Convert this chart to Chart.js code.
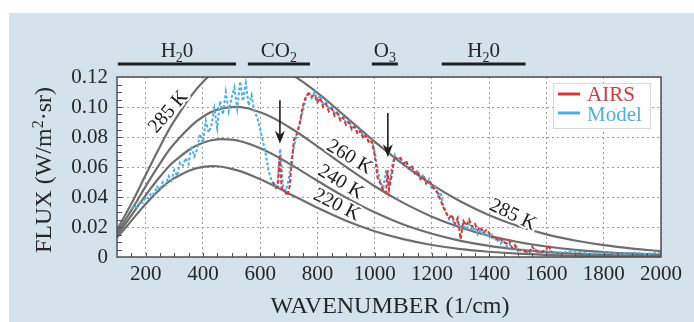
<!DOCTYPE html>
<html>
<head>
<meta charset="utf-8">
<script src="https://cdn.jsdelivr.net/npm/chart.js@4"></script>
<style>
  html, body { margin: 0; padding: 0; background: #fff; }
  #wrap { width: 694px; height: 322px; }
</style>
</head>
<body>
<div id="wrap"><canvas id="grafica" width="694" height="322"></canvas></div>
<script>
// curvas de Planck
const planckNu = [100, 150, 200, 250, 300, 400, 500, 600, 700, 800, 900, 1000, 1100, 1200, 1300, 1400, 1500, 1600, 1700, 1800, 1900, 2000];
const flux285 = [0.0181, 0.0355, 0.0546, 0.0735, 0.0907, 0.1167, 0.1297, 0.1307, 0.1228, 0.1094, 0.0933, 0.0769, 0.0617, 0.0482, 0.0370, 0.0279, 0.0207, 0.0151, 0.0110, 0.0079, 0.0056, 0.0039];
const flux260 = [0.0161, 0.0311, 0.0471, 0.0623, 0.0755, 0.0935, 0.0999, 0.0965, 0.0867, 0.0738, 0.0601, 0.0472, 0.0361, 0.0269, 0.0197, 0.0141, 0.0100, 0.0070, 0.0048, 0.0033, 0.0022, 0.0015];
const flux240 = [0.0145, 0.0276, 0.0411, 0.0535, 0.0638, 0.0762, 0.0782, 0.0725, 0.0624, 0.0508, 0.0396, 0.0298, 0.0217, 0.0155, 0.0108, 0.0074, 0.0050, 0.0033, 0.0022, 0.0014, 0.0009, 0.0006];
const flux220 = [0.0129, 0.0241, 0.0353, 0.0451, 0.0526, 0.0601, 0.0588, 0.0519, 0.0424, 0.0328, 0.0242, 0.0172, 0.0119, 0.0080, 0.0053, 0.0035, 0.0022, 0.0014, 0.0009, 0.0005, 0.0003, 0.0002];

// espectro del modelo
const modelNu = [
  150, 160, 170, 180, 190, 200, 210, 220, 230, 240,
  250, 260, 270, 280, 290, 300, 310, 320, 330, 340,
  350, 360, 370, 380, 390, 400, 410, 420, 430, 440,
  450, 460, 470, 480, 490, 500, 510, 520, 530, 540,
  550, 560, 570, 580, 590, 600, 610, 620, 630, 640,
  650, 660, 670, 680, 690, 700, 710, 720, 730, 740,
  750, 760, 770, 780, 790, 800, 810, 820, 830, 840,
  850, 860, 870, 880, 890, 900, 910, 920, 930, 940,
  950, 960, 970, 980, 990, 1000, 1010, 1020, 1030, 1040,
  1050, 1060, 1070, 1080, 1090, 1100, 1110, 1120, 1130, 1140,
  1150, 1160, 1170, 1180, 1190, 1200, 1210, 1220, 1230, 1240,
  1250, 1260, 1270, 1280, 1290, 1300, 1310, 1320, 1330, 1340,
  1350, 1360, 1370, 1380, 1390, 1400, 1410, 1420, 1430, 1440,
  1450, 1460, 1470, 1480, 1490, 1500,
  1520, 1540, 1560, 1580, 1600,
  1650, 1700, 1750, 1800, 1850, 1900, 1950, 2000
];
const modelFlux = [
  0.032, 0.034, 0.033, 0.037, 0.036, 0.040, 0.039, 0.043, 0.042, 0.047,
  0.045, 0.050, 0.048, 0.054, 0.051, 0.058, 0.054, 0.063, 0.061, 0.066,
  0.062, 0.074, 0.067, 0.072, 0.082, 0.076, 0.091, 0.083, 0.088, 0.099,
  0.086, 0.104, 0.095, 0.110, 0.097, 0.106, 0.113, 0.099, 0.117, 0.104,
  0.116, 0.101, 0.108, 0.097, 0.093, 0.085, 0.077, 0.068, 0.057, 0.051,
  0.047, 0.048, 0.072, 0.047, 0.044, 0.052, 0.066, 0.075, 0.083, 0.090,
  0.098, 0.106, 0.110, 0.106, 0.110, 0.104, 0.108, 0.101, 0.104, 0.098,
  0.101, 0.095, 0.097, 0.092, 0.094, 0.089, 0.091, 0.086, 0.088, 0.083,
  0.085, 0.080, 0.082, 0.077, 0.078, 0.070, 0.058, 0.050, 0.046, 0.058,
  0.047, 0.060, 0.068, 0.064, 0.067, 0.061, 0.064, 0.058, 0.061, 0.055,
  0.058, 0.052, 0.055, 0.049, 0.052, 0.045, 0.048, 0.041, 0.043, 0.034,
  0.030, 0.025, 0.027, 0.021, 0.024, 0.019, 0.023, 0.018, 0.022, 0.017,
  0.020, 0.015, 0.018, 0.014, 0.016, 0.013, 0.015, 0.011, 0.013, 0.009,
  0.011, 0.007, 0.009, 0.005, 0.007, 0.004,
  0.005, 0.003, 0.005, 0.003, 0.004,
  0.003, 0.004, 0.002, 0.003, 0.002, 0.003, 0.002, 0.003
];

// espectro AIRS
const airsNu = [
  645, 655, 662, 668, 675, 685, 695, 703, 710, 718, 728, 738, 748,
  758, 768, 778, 790, 800, 810, 820, 830, 840, 850, 860,
  870, 880, 890, 900, 910, 920, 930, 940, 950, 960, 970, 980, 990,
  1000, 1010, 1020, 1030, 1040, 1045, 1050,
  1060, 1070, 1080, 1090, 1100, 1110, 1120, 1130, 1140, 1150,
  1160, 1170, 1180, 1190, 1200, 1210, 1220, 1230, 1240, 1250,
  1260, 1270, 1280, 1290, 1300, 1310, 1320, 1330, 1340, 1350,
  1360, 1370, 1380, 1390, 1400, 1410, 1420, 1430, 1440, 1450,
  1460, 1470, 1480, 1490, 1500,
  1520, 1540, 1550, 1560, 1580, 1600, 1605, 1620
];
const airsFlux = [
  0.050, 0.046, 0.047, 0.068, 0.046, 0.044, 0.041, 0.047, 0.062, 0.078, 0.082, 0.089, 0.100,
  0.106, 0.109, 0.107, 0.108, 0.103, 0.106, 0.100, 0.102, 0.097, 0.099, 0.094,
  0.096, 0.091, 0.093, 0.088, 0.090, 0.085, 0.087, 0.082, 0.084, 0.079, 0.081, 0.076, 0.077,
  0.068, 0.053, 0.049, 0.044, 0.043, 0.058, 0.045,
  0.055, 0.067, 0.065, 0.066, 0.062, 0.064, 0.059, 0.061, 0.056, 0.057,
  0.052, 0.054, 0.049, 0.051, 0.047, 0.045, 0.043, 0.038, 0.033, 0.029,
  0.026, 0.028, 0.022, 0.026, 0.012, 0.024, 0.021, 0.025, 0.020, 0.022,
  0.018, 0.020, 0.016, 0.018, 0.016, 0.013, 0.014, 0.011, 0.012, 0.010,
  0.009, 0.011, 0.006, 0.008, 0.005,
  0.004, 0.003, 0.007, 0.004, 0.003, 0.005, 0.008, 0.003
];

// bandas de absorcion (cm-1)
const bandLabels = [["H", "2", "0"], ["CO", "2", ""], ["O", "3", ""], ["H", "2", "0"]];
const bandStart = [103, 557, 990, 1234];
const bandEnd = [516, 774, 1081, 1527];

// etiquetas de las curvas
const curveText = ["285 K", "260 K", "240 K", "220 K", "285 K"];
const curveNu = [280, 912, 881, 867, 1482];
const curveFlux = [0.0967, 0.0665, 0.0498, 0.0347, 0.0280];
const curveAngle = [-49, 31, 31, 27, 26];

// flechas
const arrowNu = [669, 1046];
const arrowFrom = [0.1045, 0.096];
const arrowTo = [0.0755, 0.0665];

const xTicks = [200, 400, 600, 800, 1000, 1200, 1400, 1600, 1800, 2000];

const serif = "'Liberation Serif', 'Times New Roman', serif";
const gris = "#6e6e6e";
const rojo = "#d23a3a";
const azul = "#4eaee0";

const pts = (xs, ys) => xs.map((x, i) => ({ x: x, y: ys[i] }));

const planck = (data) => ({
  data: pts(planckNu, data),
  borderColor: gris,
  borderWidth: 2.2,
  pointRadius: 0,
  tension: 0.4,
});

// dibuja texto con subindices / superindices
const textoPartes = (ctx, partes, cx, cy, size) => {
  let ancho = 0;
  partes.forEach((p) => {
    ctx.font = (p.off ? Math.round(size * 0.68) : size) + "px " + serif;
    ancho += ctx.measureText(p.t).width;
  });
  let xx = cx - ancho / 2;
  ctx.textAlign = "left";
  partes.forEach((p) => {
    ctx.font = (p.off ? Math.round(size * 0.68) : size) + "px " + serif;
    ctx.fillText(p.t, xx, cy + (p.off || 0));
    xx += ctx.measureText(p.t).width;
  });
};

const fondo = {
  id: "fondo",
  beforeDraw(chart) {
    const { ctx, chartArea: a } = chart;
    ctx.save();
    ctx.fillStyle = "#d3e2eb";
    ctx.fillRect(9, 13, chart.width - 9, chart.height - 13);
    ctx.fillStyle = "#fff";
    ctx.fillRect(a.left, a.top, a.right - a.left, a.bottom - a.top);
    ctx.restore();
  },
};

const extras = {
  id: "extras",
  afterDraw(chart) {
    const { ctx, chartArea: a } = chart;
    const x = chart.scales.x;
    const y = chart.scales.y;
    ctx.save();

    // marco
    ctx.strokeStyle = "#505050";
    ctx.lineWidth = 1.5;
    ctx.strokeRect(a.left, a.top, a.right - a.left, a.bottom - a.top);

    // marcas menores
    ctx.lineWidth = 1;
    ctx.beginPath();
    for (let v = 150; v < 2000; v += 50) {
      const px = Math.round(x.getPixelForValue(v)) + 0.5;
      ctx.moveTo(px, a.bottom);
      ctx.lineTo(px, a.bottom - 4);
    }
    for (let k = 1; k < 24; k++) {
      const py = Math.round(y.getPixelForValue(k * 0.005)) + 0.5;
      ctx.moveTo(a.left, py);
      ctx.lineTo(a.left + 5, py);
    }
    ctx.stroke();

    // etiquetas de temperatura
    ctx.fillStyle = "#1e1e1e";
    ctx.font = "20px " + serif;
    ctx.textAlign = "center";
    ctx.textBaseline = "middle";
    curveText.forEach((t, i) => {
      ctx.save();
      ctx.translate(x.getPixelForValue(curveNu[i]), y.getPixelForValue(curveFlux[i]));
      ctx.rotate((curveAngle[i] * Math.PI) / 180);
      ctx.strokeStyle = "#fff";
      ctx.lineWidth = 4;
      ctx.lineJoin = "round";
      ctx.strokeText(t, 0, 0);
      ctx.fillText(t, 0, 0);
      ctx.restore();
    });

    // flechas
    ctx.strokeStyle = "#1e1e1e";
    ctx.fillStyle = "#1e1e1e";
    ctx.lineWidth = 1.6;
    arrowNu.forEach((nu, i) => {
      const px = x.getPixelForValue(nu);
      const y0 = y.getPixelForValue(arrowFrom[i]);
      const y1 = y.getPixelForValue(arrowTo[i]);
      ctx.beginPath();
      ctx.moveTo(px, y0);
      ctx.lineTo(px, y1 - 8);
      ctx.stroke();
      ctx.beginPath();
      ctx.moveTo(px, y1);
      ctx.lineTo(px - 5, y1 - 13);
      ctx.lineTo(px, y1 - 9);
      ctx.lineTo(px + 5, y1 - 13);
      ctx.closePath();
      ctx.fill();
    });

    // bandas de absorcion
    ctx.textBaseline = "alphabetic";
    bandLabels.forEach((lab, i) => {
      const x0 = x.getPixelForValue(bandStart[i]);
      const x1 = x.getPixelForValue(bandEnd[i]);
      ctx.fillStyle = "#1e1e1e";
      ctx.fillRect(x0, 62.5, x1 - x0, 3);
      ctx.fillStyle = "#262626";
      textoPartes(ctx, [{ t: lab[0] }, { t: lab[1], off: 5 }, { t: lab[2] }], (x0 + x1) / 2, 57, 21);
    });

    // titulos de ejes
    ctx.fillStyle = "#262626";
    ctx.font = "24px " + serif;
    ctx.textAlign = "center";
    ctx.fillText("WAVENUMBER (1/cm)", (a.left + a.right) / 2 + 1, 313);
    ctx.save();
    ctx.translate(51, (a.top + a.bottom) / 2 + 3);
    ctx.rotate(-Math.PI / 2);
    textoPartes(ctx, [{ t: "FLUX (W/m" }, { t: "2", off: -8 }, { t: "\u00b7sr)" }], 0, 0, 24);
    ctx.restore();

    // leyenda
    const lx = a.right - 108;
    const ly = a.top + 6;
    ctx.fillStyle = "#fff";
    ctx.fillRect(lx, ly, 97, 45);
    ctx.strokeStyle = "#d8d8d8";
    ctx.lineWidth = 1;
    ctx.strokeRect(lx + 0.5, ly + 0.5, 97, 45);
    ctx.lineWidth = 3;
    ctx.strokeStyle = rojo;
    ctx.beginPath();
    ctx.moveTo(lx + 5, ly + 11);
    ctx.lineTo(lx + 27, ly + 11);
    ctx.stroke();
    ctx.strokeStyle = azul;
    ctx.beginPath();
    ctx.moveTo(lx + 5, ly + 30);
    ctx.lineTo(lx + 27, ly + 30);
    ctx.stroke();
    ctx.font = "21px " + serif;
    ctx.textAlign = "left";
    ctx.fillStyle = rojo;
    ctx.fillText("AIRS", lx + 34, ly + 18);
    ctx.fillStyle = azul;
    ctx.fillText("Model", lx + 34, ly + 38);

    ctx.restore();
  },
};

new Chart(document.getElementById("grafica"), {
  type: "line",
  data: {
    datasets: [
      {
        data: pts(airsNu, airsFlux),
        borderColor: rojo,
        borderWidth: 2,
        borderDash: [4, 2],
        pointRadius: 0,
        tension: 0,
      },
      {
        data: pts(modelNu, modelFlux),
        borderColor: azul,
        borderWidth: 2,
        borderDash: [3, 2],
        pointRadius: 0,
        tension: 0,
      },
      planck(flux285),
      planck(flux260),
      planck(flux240),
      planck(flux220),
    ],
  },
  options: {
    responsive: false,
    animation: false,
    layout: { padding: { left: 9, top: 77, right: 33, bottom: 0 } },
    plugins: { legend: { display: false }, tooltip: { enabled: false } },
    scales: {
      x: {
        type: "linear",
        min: 100,
        max: 2000,
        afterBuildTicks: (s) => {
          s.ticks = xTicks.map((v) => ({ value: v }));
        },
        afterFit: (s) => {
          s.height = 65;
        },
        grid: { color: "#9a9a9a", lineWidth: 1, drawTicks: false },
        border: { display: false, dash: [2, 3] },
        ticks: {
          padding: 5,
          color: "#262626",
          font: { family: serif, size: 21 },
          maxRotation: 0,
          callback: (v) => String(v),
        },
      },
      y: {
        min: 0,
        max: 0.12,
        afterFit: (s) => {
          s.width = 108;
        },
        grid: { color: "#9a9a9a", lineWidth: 1, drawTicks: false },
        border: { display: false, dash: [2, 3] },
        ticks: {
          stepSize: 0.02,
          padding: 9,
          color: "#262626",
          font: { family: serif, size: 21 },
          callback: (v) => (v === 0 ? "0" : v.toFixed(2)),
        },
      },
    },
  },
  plugins: [fondo, extras],
});
</script>
</body>
</html>
